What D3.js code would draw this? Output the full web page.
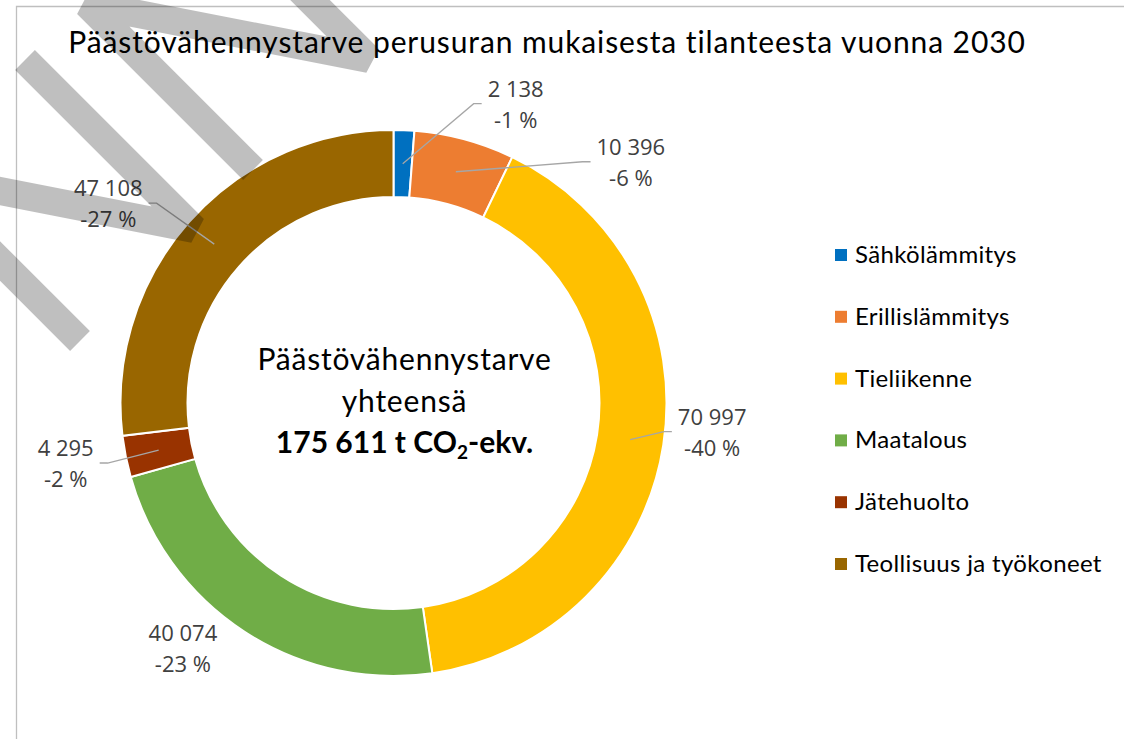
<!DOCTYPE html>
<html>
<head>
<meta charset="utf-8">
<script src="https://cdn.jsdelivr.net/npm/d3@7"></script>
<style>
  html, body { margin: 0; padding: 0; background: #fff; }
  svg { display: block; }
</style>
</head>
<body>
<svg id="chart" width="1124" height="739"></svg>
<script>
// data
const categories = ['Sähkölämmitys', 'Erillislämmitys', 'Tieliikenne', 'Maatalous', 'Jätehuolto', 'Teollisuus ja työkoneet'];
const values = [2138, 10396, 70997, 40074, 4295, 47108];
const colors = ['#0070C0', '#ED7D31', '#FFC000', '#70AD47', '#993300', '#996600'];
const totalReported = 175611;
const title = 'Päästövähennystarve perusuran mukaisesta tilanteesta vuonna 2030';
const centerLines = ['Päästövähennystarve', 'yhteensä'];

// label placement relative to each slice centroid (layout only)
const labelOffsets = [[113, -60], [175, -10], [82, -8], [-80, 44], [-93, 13], [-106, -41]];
const hasLeader = [true, true, true, false, true, true];

// grey watermark stripes lying over the picture
const watermark = [
    [[253, 170], [87, 4], [369, 59], [210, -100]],
    [[25, 60], [194, 229], [-87, 174], [80, 341]]
];

const svg = d3.select('#chart');
const cx = 393.5, cy = 403;
const rOuter = 273, rInner = 206;

const fmt = v => d3.format(',')(v).replace(/,/g, ' ');

// frame
svg.append('path')
    .attr('d', 'M16.5,760 V6.5 H1130')
    .attr('fill', 'none')
    .attr('stroke', '#bfbfbf')
    .attr('stroke-width', 1.3);

const pie = d3.pie().sort(null).value(d => d.value);
const arcs = pie(categories.map((c, i) => ({ name: c, value: values[i], color: colors[i], i })));
const arc = d3.arc().innerRadius(rInner).outerRadius(rOuter);
const mid = d3.arc().innerRadius((rInner + rOuter) / 2).outerRadius((rInner + rOuter) / 2);

const g = svg.append('g').attr('transform', `translate(${cx},${cy})`);

g.selectAll('path.slice')
    .data(arcs)
    .enter().append('path')
    .attr('class', 'slice')
    .attr('d', arc)
    .attr('fill', d => d.data.color)
    .attr('stroke', '#fff')
    .attr('stroke-width', 2);

// data labels
const labels = g.selectAll('g.lbl')
    .data(arcs)
    .enter().append('g')
    .attr('class', 'lbl')
    .each(function(d) {
        const c = mid.centroid(d);
        d.c = c;
        d.lx = c[0] + labelOffsets[d.data.i][0];
        d.ly = c[1] + labelOffsets[d.data.i][1];
    });

labels.append('text')
    .attr('x', d => d.lx)
    .attr('y', d => d.ly - 7)
    .text(d => fmt(d.data.value));
labels.append('text')
    .attr('x', d => d.lx)
    .attr('y', d => d.ly + 24)
    .text(d => '-' + Math.round(d.data.value / totalReported * 100) + ' %');
labels.selectAll('text')
    .attr('text-anchor', 'middle')
    .attr('font-family', '"Open Sans", sans-serif')
    .attr('font-size', 22)
    .attr('fill', '#404040');

labels.filter(d => hasLeader[d.data.i]).each(function(d) {
    const box = this.getBBox();
    const right = d.lx > d.c[0];
    const endX = right ? box.x - 6 : box.x + box.width + 6;
    const elbowX = right ? endX - 8 : endX + 8;
    d3.select(this).insert('path', 'text')
        .attr('d', d3.line()([d.c, [elbowX, d.ly], [endX, d.ly]]))
        .attr('fill', 'none')
        .attr('stroke', '#a6a6a6')
        .attr('stroke-width', 1.3);
});

// centre text (sits a little right of the ring centre in the original)
const center = g.append('g')
    .attr('transform', 'translate(11,0)')
    .attr('text-anchor', 'middle')
    .attr('font-family', 'Lato, sans-serif')
    .attr('font-size', 30)
    .attr('fill', '#000');
center.selectAll('text.line')
    .data(centerLines)
    .enter().append('text')
    .attr('class', 'line')
    .attr('y', (d, i) => -33 + i * 42)
    .attr('letter-spacing', 0.8)
    .text(d => d);
const tot = center.append('text')
    .attr('y', 50)
    .attr('font-weight', 'bold');
tot.append('tspan').text(fmt(totalReported) + ' t CO');
tot.append('tspan').attr('font-size', 19).attr('dy', 6).text('2');
tot.append('tspan').attr('dy', -6).text('-ekv.');

// legend
const legend = svg.append('g').attr('transform', 'translate(835,255)');
const item = legend.selectAll('g')
    .data(categories)
    .enter().append('g')
    .attr('transform', (d, i) => `translate(0,${i * 61.8})`);
item.append('rect')
    .attr('x', 0).attr('y', -6)
    .attr('width', 12).attr('height', 12)
    .attr('fill', (d, i) => colors[i]);
item.append('text')
    .attr('x', 20).attr('y', 8)
    .attr('font-family', 'Lato, sans-serif')
    .attr('font-size', 24)
    .attr('letter-spacing', 0.35)
    .attr('fill', '#000')
    .text(d => d);

// title
svg.append('text')
    .attr('x', 547).attr('y', 53)
    .attr('text-anchor', 'middle')
    .attr('font-family', 'Lato, sans-serif')
    .attr('font-size', 30)
    .attr('letter-spacing', 0.9)
    .attr('fill', '#000')
    .text(title);

// watermark on top
svg.append('g').selectAll('path')
    .data(watermark)
    .enter().append('path')
    .attr('d', d3.line())
    .attr('fill', 'none')
    .attr('stroke', '#000')
    .attr('stroke-opacity', 0.25)
    .attr('stroke-width', 28)
    .attr('stroke-linejoin', 'bevel')
    .attr('stroke-linecap', 'butt');
</script>
</body>
</html>
